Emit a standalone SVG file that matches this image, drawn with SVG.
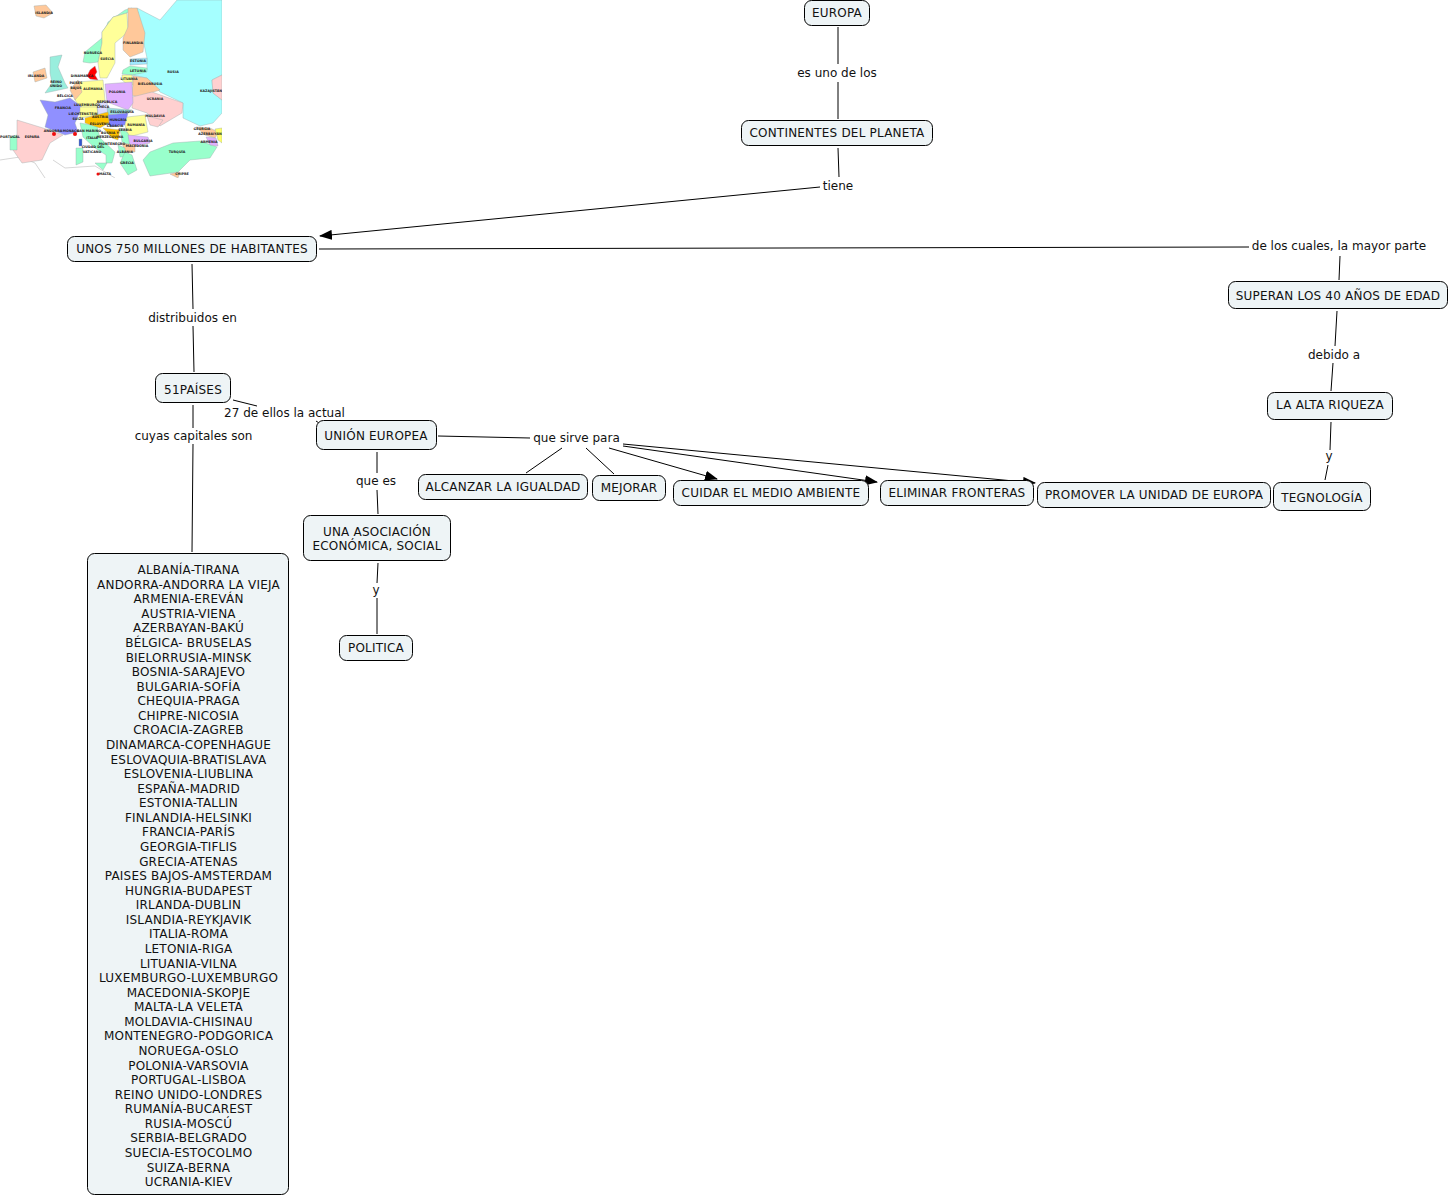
<svg xmlns="http://www.w3.org/2000/svg" width="1451" height="1197" viewBox="0 0 1451 1197">
<defs>
<style>
text{font-family:"DejaVu Sans",Verdana,sans-serif;font-size:12px;fill:#111;text-anchor:middle}
.n rect{fill:#eef4f6;stroke:#000;stroke-width:1}
.n text{letter-spacing:.2px}
.c line{stroke:#000;stroke-width:1;fill:none}
.ah{fill:#000;stroke:none}
.m text{font-size:3.3px;font-weight:bold;fill:#222;letter-spacing:0}
.m polygon{stroke:#9aa;stroke-width:.4}
.m polyline{stroke:#bbb;stroke-width:.6;fill:none}
</style>
<marker id="a" markerUnits="userSpaceOnUse" markerWidth="14" markerHeight="10" refX="12" refY="5" orient="auto"><path class="ah" d="M0 0L13 5L0 10z"/></marker>
<clipPath id="mc"><rect x="0" y="0" width="222" height="178"/></clipPath>
<filter id="bl" x="0" y="0" width="1" height="1"><feGaussianBlur stdDeviation="0.35"/></filter>
</defs>
<rect width="1451" height="1197" fill="#fff"/>
<g id="mapa" class="m" clip-path="url(#mc)"><g filter="url(#bl)">
<polyline points="0,160 20,157 35,163 45,178"/><polyline points="53,160 65,168 95,166 115,178"/>
<polygon fill="#a5ffff" points="177,0 222,0 222,75 212,80 213,93 222,100 222,113 213,123 200,126 183,118 183,103 160,92 147,78 132,75 147,70 147,58 143,40 137,8 160,20"/>
<polygon fill="#ffd0d0" points="222,75 212,80 213,93 222,100"/>
<polygon fill="#ffc89a" points="34,6 46,5 53,13 44,18 36,16"/>
<polygon fill="#99ffcc" points="83,62 85,52 102,38 108,22 125,10 132,8 127,13 113,17 102,32 102,43 98,62 90,63"/>
<polygon fill="#ffff99" points="113,17 127,13 128,32 115,43 115,63 107,78 100,78 98,63 102,43 102,32"/>
<polygon fill="#ffc89a" points="128,8 137,8 145,33 143,52 130,57 123,50 123,38 128,27"/>
<polygon fill="#a0e8ff" points="130,59 147,58 147,64 130,65"/>
<polygon fill="#99ffcc" points="123,70 130,66 147,68 147,72 132,75 122,74"/>
<polygon fill="#ffff99" points="122,75 132,75 133,85 128,85 122,80"/>
<polygon fill="#ffc89a" points="133,76 147,78 160,90 150,93 138,97 131,95 133,85"/>
<polygon fill="#ffd0d0" points="132,97 152,92 183,103 182,113 160,126 147,113 132,108"/>
<polygon fill="#e0b0ff" points="105,84 132,82 133,103 128,110 107,102"/>
<polygon fill="#ffff99" points="78,82 103,80 105,100 97,107 98,115 80,115 80,107 75,100"/>
<polygon fill="#ff0000" points="87,76 90,70 95,66 97,72 95,75 98,80 90,79"/>
<polygon fill="#99eedd" points="50,57 62,55 58,67 65,83 68,88 45,93 52,83 50,73"/>
<polygon fill="#ffc89a" points="33,72 45,68 47,78 35,82"/>
<polygon fill="#ffc89a" points="70,90 78,80 82,92 75,100"/>
<polygon fill="#9090ff" points="40,100 55,102 70,98 82,107 75,123 78,132 65,135 45,127 48,115"/>
<polygon fill="#ffd0d0" points="17,120 43,128 63,135 50,143 42,160 22,163 13,150 17,137"/>
<polygon fill="#99ffcc" points="10,137 17,135 17,150 10,150"/>
<polygon fill="#ffff99" points="80,107 97,107 98,115 80,118"/>
<polygon fill="#ddddff" points="97,103 107,102 108,112 98,115"/>
<polygon fill="#99dddd" points="107,108 132,110 128,113 108,115"/>
<polygon fill="#99ffcc" points="80,123 97,126 100,138 115,152 112,163 106,163 106,155 95,148 83,137"/>
<polygon fill="#ffc000" points="85,118 108,112 110,122 100,128 85,123"/>
<polygon fill="#8080ff" points="108,115 128,113 125,125 110,127"/>
<polygon fill="#ffff99" points="127,117 145,115 148,132 128,137 125,125"/>
<polygon fill="#ffd0d0" points="147,116 163,120 158,127 150,125"/>
<polygon fill="#ffc000" points="103,128 120,130 118,140 112,138"/>
<polygon fill="#99ffcc" points="120,128 128,133 132,147 122,142"/>
<polygon fill="#e0b0ff" points="128,135 148,137 150,143 130,147"/>
<polygon fill="#ffc89a" points="122,143 135,145 135,152 125,152"/>
<polygon fill="#99ffcc" points="118,145 125,148 125,157 120,157"/>
<polygon fill="#99ffcc" points="125,152 132,155 137,170 128,175 120,163"/>
<polygon fill="#99ffcc" points="143,160 150,152 173,143 200,141 217,147 210,158 190,160 178,172 150,176"/>
<polygon fill="#ffc89a" points="196,127 210,128 218,132 215,138 205,135"/>
<polygon fill="#e0b0ff" points="206,137 216,138 218,146 210,145"/>
<polygon fill="#ffff66" points="215,129 222,128 222,143 218,140"/>
<polygon fill="#99ffcc" points="76,148 83,148 83,162 76,165"/>
<polygon fill="#3355cc" points="79,139 82,139 82,146 79,146"/>
<polygon fill="#99ffcc" points="95,163 107,163 103,170"/>
<polygon fill="#ffc89a" points="170,174 180,172 178,178"/>
<circle cx="54" cy="134" r="2" fill="#f01010"/><circle cx="75" cy="134" r="2" fill="#f01010"/><circle cx="98" cy="174" r="1.5" fill="#f01010"/>
</g>
<text x="44" y="14">ISLANDIA</text><text x="133" y="44">FINLANDIA</text><text x="93" y="54">NORUEGA</text><text x="107" y="60">SUECIA</text><text x="138" y="62">ESTONIA</text><text x="138" y="72">LETONIA</text><text x="129" y="80">LITUANIA</text><text x="173" y="73">RUSIA</text><text x="150" y="85">BIELORRUSIA</text><text x="155" y="100">UCRANIA</text><text x="211" y="92">KAZAJISTÁN</text><text x="36" y="77">IRLANDA</text><text x="56" y="83">REINO</text><text x="56" y="87">UNIDO</text><text x="76" y="84">PAÍSES</text><text x="76" y="89">BAJOS</text><text x="82" y="77">DINAMARCA</text><text x="93" y="90">ALEMANIA</text><text x="65" y="97">BÉLGICA</text><text x="63" y="109">FRANCIA</text><text x="117" y="93">POLONIA</text><text x="107" y="103">REPÚBLICA</text><text x="103" y="108">CHECA</text><text x="122" y="113">ESLOVAQUIA</text><text x="87" y="106">LUXEMBURGO</text><text x="83" y="115">LIECHTENSTEIN</text><text x="78" y="120">SUIZA</text><text x="100" y="118">AUSTRIA</text><text x="118" y="121">HUNGRÍA</text><text x="136" y="126">RUMANÍA</text><text x="155" y="117">MOLDAVIA</text><text x="100" y="125">ESLOVENIA</text><text x="115" y="127">CROACIA</text><text x="125" y="131">SERBIA</text><text x="110" y="134">BOSNIA Y</text><text x="110" y="138">HERZEGOVINA</text><text x="143" y="142">BULGARIA</text><text x="137" y="147">MACEDONIA</text><text x="112" y="145">MONTENEGRO</text><text x="125" y="153">ALBANIA</text><text x="127" y="164">GRECIA</text><text x="177" y="153">TURQUÍA</text><text x="182" y="175">CHIPRE</text><text x="105" y="175">MALTA</text><text x="10" y="138">PORTUGAL</text><text x="32" y="138">ESPAÑA</text><text x="53" y="132">ANDORRA</text><text x="71" y="132">MÓNACO</text><text x="89" y="132">SAN MARINO</text><text x="92" y="139">ITALIA</text><text x="93" y="148">CIUDAD DEL</text><text x="92" y="153">VATICANO</text><text x="202" y="130">GEORGIA</text><text x="210" y="135">AZERBAIYÁN</text><text x="209" y="143">ARMENIA</text>
</g>
<g id="conectores" class="c">
<line x1="838" y1="27" x2="838" y2="64"/><line x1="838" y1="82" x2="838" y2="119"/>
<line x1="838" y1="148" x2="839" y2="177"/><line x1="820" y1="187" x2="320" y2="236" marker-end="url(#a)"/>
<line x1="319" y1="249" x2="1249" y2="247"/><line x1="1340" y1="256" x2="1339" y2="280"/>
<line x1="1337" y1="311" x2="1335" y2="346"/><line x1="1333" y1="363" x2="1331" y2="391"/>
<line x1="1331" y1="422" x2="1330" y2="450"/><line x1="1328" y1="465" x2="1325" y2="480"/>
<line x1="192" y1="264" x2="193" y2="309"/><line x1="193" y1="326" x2="194" y2="372"/>
<line x1="233" y1="400" x2="257" y2="406"/><line x1="316" y1="421" x2="319" y2="423"/>
<line x1="193" y1="405" x2="193" y2="428"/><line x1="193" y1="444" x2="192" y2="552"/>
<line x1="438" y1="436" x2="530" y2="438"/>
<line x1="377" y1="452" x2="377" y2="473"/><line x1="377" y1="490" x2="378" y2="514"/>
<line x1="378" y1="563" x2="377" y2="583"/><line x1="377" y1="598" x2="377" y2="634"/>
<line x1="562" y1="448" x2="526" y2="473"/><line x1="586" y1="448" x2="614" y2="474"/>
<line x1="609" y1="448" x2="717" y2="479" marker-end="url(#a)"/>
<line x1="623" y1="446" x2="877" y2="482" marker-end="url(#a)"/>
<line x1="623" y1="444" x2="1035" y2="483" marker-end="url(#a)"/>
</g>
<g id="europa" class="n"><rect x="804.500" y="0.500" width="65" height="25" rx="7"/><text x="837" y="17">EUROPA</text></g>
<g id="continentes" class="n"><rect x="741.500" y="120.500" width="191" height="25" rx="7"/><text x="837" y="137">CONTINENTES DEL PLANETA</text></g>
<g id="habitantes" class="n"><rect x="67.500" y="236.500" width="249" height="25" rx="7"/><text x="192" y="253">UNOS 750 MILLONES DE HABITANTES</text></g>
<g id="superan" class="n"><rect x="1228.500" y="281.500" width="219" height="27" rx="7"/><text x="1338" y="300">SUPERAN LOS 40 AÑOS DE EDAD</text></g>
<g id="riqueza" class="n"><rect x="1267.500" y="392.500" width="125" height="27" rx="7"/><text x="1330" y="409">LA ALTA RIQUEZA</text></g>
<g id="tecnologia" class="n"><rect x="1273.500" y="482.500" width="97" height="28" rx="7"/><text x="1322" y="502">TEGNOLOGÍA</text></g>
<g id="paises" class="n"><rect x="155.500" y="373.500" width="75" height="29" rx="7"/><text x="193" y="394">51PAÍSES</text></g>
<g id="union" class="n"><rect x="316.500" y="420.500" width="120" height="29" rx="7"/><text x="376" y="440">UNIÓN EUROPEA</text></g>
<g id="igualdad" class="n"><rect x="418.500" y="474.500" width="169" height="25" rx="7"/><text x="503" y="491">ALCANZAR LA IGUALDAD</text></g>
<g id="mejorar" class="n"><rect x="592.500" y="475.500" width="73" height="25" rx="7"/><text x="629" y="492">MEJORAR</text></g>
<g id="cuidar" class="n"><rect x="673.500" y="480.500" width="195" height="25" rx="7"/><text x="771" y="497">CUIDAR EL MEDIO AMBIENTE</text></g>
<g id="eliminar" class="n"><rect x="880.500" y="480.500" width="153" height="25" rx="7"/><text x="957" y="497">ELIMINAR FRONTERAS</text></g>
<g id="promover" class="n"><rect x="1037.500" y="482.500" width="233" height="25" rx="7"/><text x="1154" y="499">PROMOVER LA UNIDAD DE EUROPA</text></g>
<g id="asociacion" class="n"><rect x="303.500" y="515.500" width="147" height="45" rx="7"/><text x="377" y="536">UNA ASOCIACIÓN</text><text x="377" y="550">ECONÓMICA, SOCIAL</text></g>
<g id="politica" class="n"><rect x="339.500" y="635.500" width="73" height="25" rx="7"/><text x="376" y="652">POLITICA</text></g>
<g id="capitales" class="n"><rect x="87.500" y="553.500" width="201" height="641" rx="7"/>
<text x="188.500" y="574">ALBANÍA-TIRANA</text><text x="188.500" y="588.600">ANDORRA-ANDORRA LA VIEJA</text><text x="188.500" y="603.200">ARMENIA-EREVÁN</text><text x="188.500" y="617.800">AUSTRIA-VIENA</text><text x="188.500" y="632.300">AZERBAYAN-BAKÚ</text><text x="188.500" y="646.900">BÉLGICA- BRUSELAS</text><text x="188.500" y="661.500">BIELORRUSIA-MINSK</text><text x="188.500" y="676">BOSNIA-SARAJEVO</text><text x="188.500" y="690.600">BULGARIA-SOFÍA</text><text x="188.500" y="705.200">CHEQUIA-PRAGA</text><text x="188.500" y="719.800">CHIPRE-NICOSIA</text><text x="188.500" y="734.300">CROACIA-ZAGREB</text><text x="188.500" y="748.900">DINAMARCA-COPENHAGUE</text><text x="188.500" y="763.500">ESLOVAQUIA-BRATISLAVA</text><text x="188.500" y="778">ESLOVENIA-LIUBLINA</text><text x="188.500" y="792.600">ESPAÑA-MADRID</text><text x="188.500" y="807.200">ESTONIA-TALLIN</text><text x="188.500" y="821.800">FINLANDIA-HELSINKI</text><text x="188.500" y="836.300">FRANCIA-PARÍS</text><text x="188.500" y="850.900">GEORGIA-TIFLIS</text><text x="188.500" y="865.500">GRECIA-ATENAS</text><text x="188.500" y="880">PAISES BAJOS-AMSTERDAM</text><text x="188.500" y="894.600">HUNGRIA-BUDAPEST</text><text x="188.500" y="909.200">IRLANDA-DUBLIN</text><text x="188.500" y="923.800">ISLANDIA-REYKJAVIK</text><text x="188.500" y="938.300">ITALIA-ROMA</text><text x="188.500" y="952.900">LETONIA-RIGA</text><text x="188.500" y="967.500">LITUANIA-VILNA</text><text x="188.500" y="982">LUXEMBURGO-LUXEMBURGO</text><text x="188.500" y="996.600">MACEDONIA-SKOPJE</text><text x="188.500" y="1011.200">MALTA-LA VELETA</text><text x="188.500" y="1025.800">MOLDAVIA-CHISINAU</text><text x="188.500" y="1040.300">MONTENEGRO-PODGORICA</text><text x="188.500" y="1054.900">NORUEGA-OSLO</text><text x="188.500" y="1069.500">POLONIA-VARSOVIA</text><text x="188.500" y="1084">PORTUGAL-LISBOA</text><text x="188.500" y="1098.600">REINO UNIDO-LONDRES</text><text x="188.500" y="1113.200">RUMANÍA-BUCAREST</text><text x="188.500" y="1127.800">RUSIA-MOSCÚ</text><text x="188.500" y="1142.300">SERBIA-BELGRADO</text><text x="188.500" y="1156.900">SUECIA-ESTOCOLMO</text><text x="188.500" y="1171.500">SUIZA-BERNA</text><text x="188.500" y="1186">UCRANIA-KIEV</text></g>
<g id="etiquetas">
<text x="837" y="77">es uno de los</text><text x="838" y="190">tiene</text><text x="1339" y="250">de los cuales, la mayor parte</text><text x="1334" y="359">debido a</text><text x="1329" y="460">y</text><text x="192.500" y="322">distribuidos en</text><text x="284.500" y="417">27 de ellos la actual</text><text x="193.500" y="440">cuyas capitales son</text><text x="576.500" y="442">que sirve para</text><text x="376" y="485">que es</text><text x="376" y="594">y</text>
</g>
</svg>
